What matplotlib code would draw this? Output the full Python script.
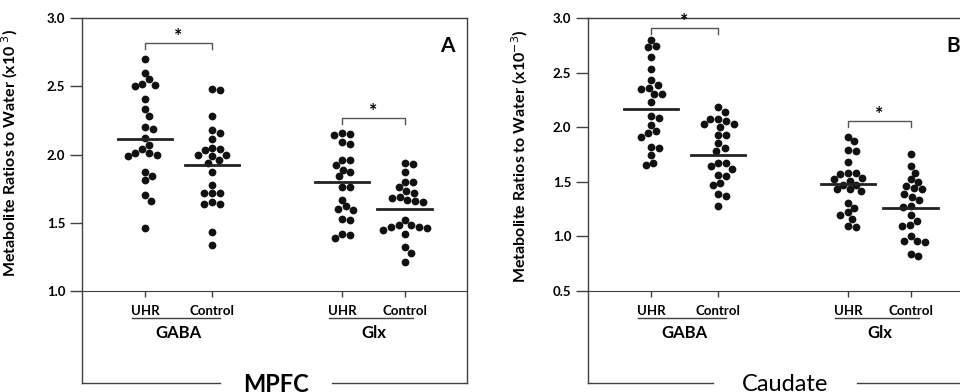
"""Dot plots of GABA and Glx metabolite ratios (UHR vs control) in MPFC and caudate."""

import numpy as np
import matplotlib.pyplot as plt

plt.rcParams["font.family"] = ["Lato", "DejaVu Sans"]

subjects = ["UHR", "Control"]
metabolites = ["GABA", "Glx"]

# MPFC values (x10^-3)
mpfc_gaba_uhr = [2.70, 2.60, 2.55, 2.52, 2.51, 2.50, 2.41, 2.33, 2.28, 2.20, 2.19, 2.12,
                 2.07, 2.04, 2.01, 2.01, 2.00, 1.99, 1.87, 1.84, 1.81, 1.70, 1.66, 1.46]
mpfc_gaba_ctrl = [2.48, 2.47, 2.28, 2.18, 2.16, 2.11, 2.05, 2.04, 2.03, 2.00, 2.00, 1.99,
                  1.96, 1.94, 1.87, 1.78, 1.72, 1.72, 1.72, 1.65, 1.64, 1.64, 1.43, 1.34]
mpfc_glx_uhr = [2.16, 2.15, 2.14, 2.09, 2.08, 1.96, 1.96, 1.92, 1.89, 1.87, 1.84, 1.76,
                1.76, 1.67, 1.62, 1.60, 1.59, 1.53, 1.52, 1.42, 1.41, 1.39]
mpfc_glx_ctrl = [1.94, 1.93, 1.87, 1.80, 1.80, 1.76, 1.73, 1.72, 1.69, 1.68, 1.67, 1.66,
                 1.65, 1.52, 1.48, 1.48, 1.47, 1.47, 1.46, 1.45, 1.42, 1.32, 1.28, 1.21]
mpfc_means = [2.11, 1.92, 1.80, 1.60]

# Caudate values (x10^-3)
caud_gaba_uhr = [2.80, 2.74, 2.73, 2.64, 2.53, 2.43, 2.39, 2.36, 2.35, 2.30, 2.30, 2.23,
                 2.10, 2.08, 2.02, 1.96, 1.95, 1.91, 1.82, 1.81, 1.74, 1.67, 1.65]
caud_gaba_ctrl = [2.18, 2.14, 2.07, 2.07, 2.06, 2.03, 2.03, 2.00, 1.93, 1.93, 1.85, 1.81,
                  1.78, 1.67, 1.67, 1.64, 1.62, 1.56, 1.55, 1.49, 1.47, 1.39, 1.37, 1.28]
caud_glx_uhr = [1.91, 1.87, 1.79, 1.78, 1.68, 1.58, 1.58, 1.57, 1.53, 1.52, 1.51, 1.47,
                1.47, 1.43, 1.43, 1.41, 1.30, 1.26, 1.22, 1.19, 1.16, 1.09, 1.08]
caud_glx_ctrl = [1.75, 1.64, 1.58, 1.52, 1.50, 1.46, 1.44, 1.43, 1.39, 1.36, 1.33, 1.28,
                 1.27, 1.19, 1.14, 1.10, 1.09, 1.00, 0.96, 0.96, 0.95, 0.84, 0.82]
caud_means = [2.17, 1.74, 1.48, 1.26]

FIG_W, FIG_H = 960, 392
LINE = "#404040"
x_pos = [1.0, 2.0, 3.94, 4.88]
XPX = 67.0  # px per x unit
XLIM = (1 - 63 / XPX, 1 + 322 / XPX)


def swarm_offsets(values, ypx, dot=7.8):
    """Simple beeswarm: smallest horizontal shift (px) that avoids overlap."""
    values = np.asarray(values)
    placed = []
    offs = np.zeros(len(values))
    for i in np.argsort(-values):
        y = values[i] * ypx
        best = None
        for step in range(0, 60):
            for cand in ([0.0] if step == 0 else [step * 0.5, -step * 0.5]):
                if all((cand - px) ** 2 + (y - py) ** 2 >= dot ** 2 for px, py in placed):
                    best = cand
                    break
            if best is not None:
                break
        placed.append((best, y))
        offs[i] = best
    return offs


def panel(left_px, top_px, base_px, base_val, top_val, ticks, data, means,
          brackets, letter, region, region_weight, gap, ylabel, label_px):
    bottom_px = 383
    ypx = (base_px - top_px) / (top_val - base_val)
    ymin = base_val - (bottom_px - base_px) / ypx
    height_px = bottom_px - top_px
    ax = fig.add_axes([left_px / FIG_W, 1 - bottom_px / FIG_H,
                       385 / FIG_W, height_px / FIG_H])
    ax.set_xlim(*XLIM)
    ax.set_ylim(ymin, top_val)

    for x, vals, m in zip(x_pos, data, means):
        offs = swarm_offsets(vals, ypx)
        ax.plot(x + offs / XPX, vals, "o", color="#111111", ms=5.6, mew=0, zorder=3)
        ax.plot([x - 0.41, x + 0.41], [m, m], color="#222222", lw=2.0, zorder=4)

    for (i, j), yb in zip([(0, 1), (2, 3)], brackets):
        leg = 6 / ypx
        ax.plot([x_pos[i], x_pos[i], x_pos[j], x_pos[j]], [yb - leg, yb, yb, yb - leg],
                color="#555555", lw=1.0)
        ax.text((x_pos[i] + x_pos[j]) / 2, yb - 2 / ypx, "*", ha="center", va="bottom",
                fontsize=14, fontweight="bold")

    for s in ["top", "left", "right"]:
        ax.spines[s].set_color(LINE)
        ax.spines[s].set_linewidth(1.0)
    ax.spines["bottom"].set_position(("data", base_val))
    ax.spines["bottom"].set_color(LINE)
    ax.set_yticks(ticks)
    ax.set_yticklabels([f"{t:.1f}" for t in ticks], fontsize=9.5, fontweight="bold")
    ax.tick_params(axis="y", direction="out", length=9, width=1, color=LINE, pad=3)
    ax.set_xticks(x_pos)
    ax.set_xticklabels(subjects * 2, fontsize=9.5, fontweight="bold")
    ax.tick_params(axis="x", direction="out", length=4, width=1, color=LINE, pad=6)
    ax.set_ylabel(ylabel, fontsize=11.5, fontweight="bold")
    ax.yaxis.set_label_coords(-(left_px - label_px[0]) / 385,
                              (bottom_px - label_px[1]) / height_px)

    for k, name in enumerate(metabolites):
        xa, xb = x_pos[2 * k], x_pos[2 * k + 1]
        yu = base_val - 27 / ypx
        ax.plot([xa - 0.2, xb + 0.12], [yu, yu], color=LINE, lw=1.0, clip_on=False)
        ax.text((xa + xb) / 2, base_val - 42 / ypx, name, ha="center", va="center",
                fontsize=12, fontweight="bold")

    ax.text(1 - 20 / 385, 1 - 28 / height_px, letter, transform=ax.transAxes, ha="center",
            va="center", fontsize=15, fontweight="bold")

    ax.plot([0, gap[0]], [0, 0], transform=ax.transAxes, color=LINE, lw=1.0, clip_on=False)
    ax.plot([gap[1], 1], [0, 0], transform=ax.transAxes, color=LINE, lw=1.0, clip_on=False)
    ax.text((gap[0] + gap[1]) / 2, -0.005, region, transform=ax.transAxes, ha="center",
            va="center", fontsize=17, fontweight=region_weight)
    return ax


fig = plt.figure(figsize=(FIG_W / 100, FIG_H / 100), dpi=100)

panel(82, 18, 291, 1.0, 3.0, [1.0, 1.5, 2.0, 2.5, 3.0],
      [mpfc_gaba_uhr, mpfc_gaba_ctrl, mpfc_glx_uhr, mpfc_glx_ctrl], mpfc_means,
      [2.82, 2.27], "A", "MPFC", "bold", (0.358, 0.649),
      "Metabolite Ratios to Water (x10 $^{3}$)", (20, 153))
panel(588, 18, 290.7, 0.5, 3.0, [0.5, 1.0, 1.5, 2.0, 2.5, 3.0],
      [caud_gaba_uhr, caud_gaba_ctrl, caud_glx_uhr, caud_glx_ctrl], caud_means,
      [2.91, 2.06], "B", "Caudate", "normal", (0.325, 0.699),
      "Metabolite Ratios to Water (x10$^{-3}$)", (530, 156))

fig.savefig("out.png", dpi=100)
